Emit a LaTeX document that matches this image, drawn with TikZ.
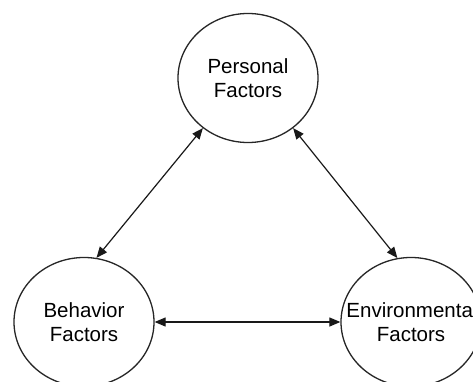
\documentclass[tikz,border=0pt]{standalone}
\usepackage{fontspec}
\setmainfont{Liberation Sans}
\usetikzlibrary{shapes.geometric,arrows.meta}
\begin{document}
\begin{tikzpicture}[x=1pt,y=-1pt,
  factor/.style={ellipse, draw=black!85, line width=1.3pt, minimum width=140pt, minimum height=129pt, inner sep=0pt, align=center, font=\fontsize{20.5}{23.5}\selectfont},
  link/.style={{Triangle[length=11pt,width=9pt]}-{Triangle[length=11pt,width=9pt]}, line width=1.2pt, draw=black!90}]
\useasboundingbox (0,0) rectangle (473,382);
\clip (0,0) rectangle (473,382);
\fill[white] (0,0) rectangle (473,382);
\node[factor] (P) at (248,78) {Personal\\Factors};
\node[factor] (B) at (84,322) {Behavior\\Factors};
\node[factor] (E) at (411,322) {\makebox[0pt]{\hspace{2pt}Environmental}\\Factors};
\draw[link] (P.228) -- (B.79);
\draw[link] (P.312) -- (E.102);
\draw[link] (B.east) -- (E.west);
\end{tikzpicture}
\end{document}
